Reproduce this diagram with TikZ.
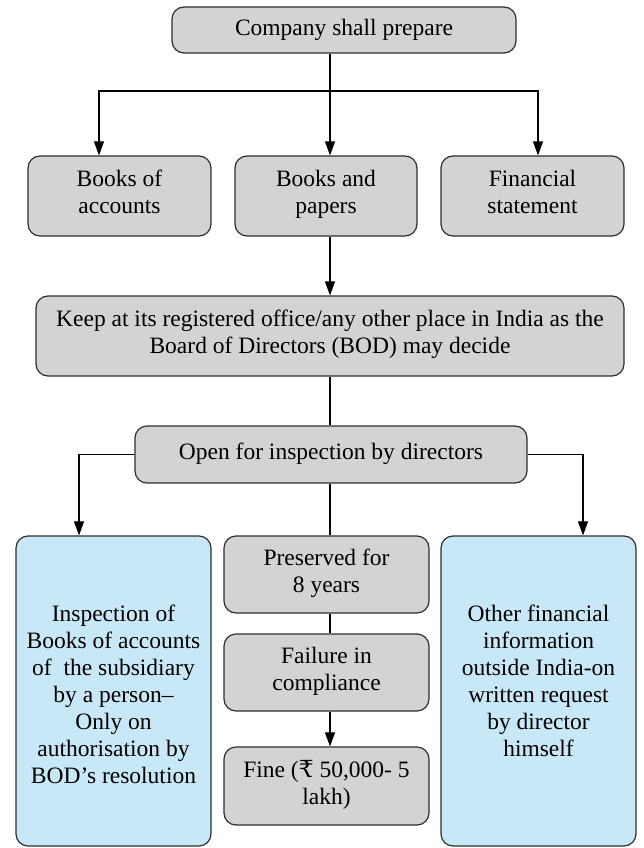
\documentclass[tikz,border=0pt]{standalone}
\usepackage{fontspec}
\setmainfont{Liberation Serif}
\newfontfamily\rupeefont{DejaVu Serif}
\usetikzlibrary{arrows.meta,positioning}
\definecolor{boxgray}{HTML}{D2D3D5}
\definecolor{boxblue}{HTML}{C8E8F8}
\definecolor{edgegray}{HTML}{2E2E2E}
\tikzset{
  label text/.style={align=center, inner sep=0pt, font=\fontsize{23.5}{27}\selectfont,
    execute at begin node=\strut, execute at end node=\strut},
  box/.style={label text, draw=edgegray, line width=1.2pt, rounded corners=12pt, fill=boxgray},
  bluebox/.style={box, fill=boxblue},
  link/.style={draw=black, line width=1.1pt},
  arr/.style={link, -{Triangle[length=14pt,width=10pt]}}
}
\begin{document}
\begin{tikzpicture}[x=1pt,y=-1pt]
\useasboundingbox (0,0) rectangle (643,848);

% top level
\node[box, minimum width=344pt, minimum height=46pt] (top) at (344,30) {Company shall prepare};

% three kinds of records
\node[box, minimum width=183pt, minimum height=80pt] (boa) at (119.5,196) {Books of\\accounts};
\node[box, minimum width=182pt, minimum height=80pt] (bap) at (326,196) {Books and\\papers};
\node[box, minimum width=183pt, minimum height=80pt] (fin) at (532.5,196) {Financial\\statement};

% place of keeping
\node[box, minimum width=588pt, minimum height=80pt] (keep) at (330,336)
  {Keep at its registered office/any other place in India as the\\Board of Directors (BOD) may decide};

\node[box, minimum width=392pt, minimum height=57pt] (open) at (331,454.5) {Open for inspection by directors};

% middle column
\node[box, minimum width=205pt, minimum height=77pt] (pres) at (326.5,574.5) {Preserved for\\8 years};
\node[box, minimum width=205pt, minimum height=77pt] (fail) at (326.5,672.5) {Failure in\\compliance};
\node[box, minimum width=205pt, minimum height=78pt] (fine) at (326.5,786) {Fine ({\rupeefont ₹} 50,000- 5\\lakh)};

% side columns
\node[bluebox, minimum width=195pt, minimum height=310pt] (insp) at (113.5,691) {};
\node[bluebox, minimum width=195pt, minimum height=310pt] (other) at (538.5,691) {};
\node[label text, anchor=north] (insptext) at (113.5,605)
  {Inspection of\\Books of accounts\\of~ the subsidiary\\by a person–\\Only on\\authorisation by\\BOD’s resolution};
\node[label text, anchor=north] (othertext) at (538.5,605)
  {Other financial\\information\\outside India-on\\written request\\by director\\himself};

% connectors
\coordinate (spine) at (330,91);
\draw[arr] (spine |- top.south) -- (spine |- bap.north);
\draw[arr] (spine) -| ([xshift=-20.5pt]boa.north);
\draw[arr] (spine) -| ([xshift=5.5pt]fin.north);
\draw[arr] (spine |- bap.south) -- (spine |- keep.north);
\draw[link] (spine |- keep.south) -- (spine |- open.north);
\draw[arr] (open.west) -| ([xshift=-34.5pt]insp.north);
\draw[arr] (open.east) -| ([xshift=44.5pt]other.north);
\draw[link] (spine |- open.south) -- (spine |- pres.north);
\draw[link] (spine |- pres.south) -- (spine |- fail.north);
\draw[arr] (spine |- fail.south) -- (spine |- fine.north);
\end{tikzpicture}
\end{document}
